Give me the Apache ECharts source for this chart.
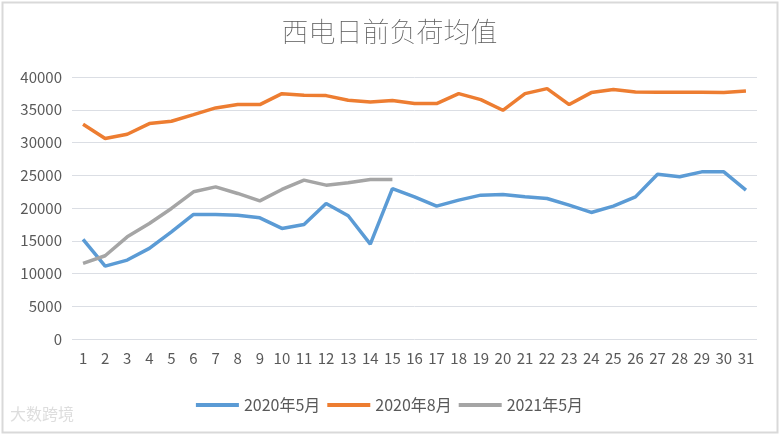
<!DOCTYPE html>
<html><head><meta charset="utf-8">
<script src="https://cdn.jsdelivr.net/npm/echarts@6/dist/echarts.min.js"></script>
<style>html,body{margin:0;padding:0;background:#fff}#c{width:779px;height:434px}</style>
</head><body><div id="c"></div>
<script>
const categories = ['1','2','3','4','5','6','7','8','9','10','11','12','13','14','15','16','17','18','19','20','21','22','23','24','25','26','27','28','29','30','31'];
const may2020 = [15200,11130,12050,13830,16370,19010,19010,18910,18500,16880,17490,20690,18810,14490,22950,21700,20280,21200,21960,22060,21700,21450,20430,19320,20280,21700,25160,24760,25520,25520,22720];
const aug2020 = [32790,30600,31260,32890,33245,34260,35280,35790,35790,37460,37210,37160,36450,36190,36400,35940,35940,37460,36550,34920,37460,38230,35790,37620,38080,37710,37660,37660,37660,37620,37870];
const may2021 = [11540,12710,15600,17640,19930,22470,23230,22220,21090,22830,24250,23490,23840,24350,24350];
const yTicks = [0,5000,10000,15000,20000,25000,30000,35000,40000];
const seriesNames = ['2020年5月','2020年8月','2021年5月'];
const colors = ['#5b9bd5','#ed7d31','#a5a5a5'];
const font = '"Microsoft YaHei","Noto Sans CJK SC",sans-serif';
const chart = echarts.init(document.getElementById('c'));
chart.setOption({
  animation:false,
  color:colors,
  title:{text:'西电日前负荷均值',left:'center',top:13,textStyle:{fontSize:27,fontWeight:'lighter',color:'#595959',fontFamily:font}},
  grid:{left:72,right:22,top:77,bottom:95,containLabel:false},
  legend:{bottom:16,left:'center',itemWidth:43,itemHeight:4,itemGap:7,icon:'rect',
    textStyle:{fontSize:16,color:'#595959',fontFamily:font},data:seriesNames},
  xAxis:{type:'category',data:categories,boundaryGap:true,
    axisLine:{show:false},axisTick:{show:false},
    axisLabel:{fontSize:15,color:'#595959',margin:12,interval:0,fontFamily:font}},
  yAxis:{type:'value',min:yTicks[0],max:yTicks[yTicks.length-1],interval:5000,
    axisLine:{show:false},axisTick:{show:false},
    axisLabel:{fontSize:15,color:'#595959',margin:10,fontFamily:font,formatter:v=>String(v)}},
    splitLine:{lineStyle:{color:'#d9d9d9',width:1}},
  series:[
    {name:seriesNames[0],type:'line',data:may2020,symbol:'none',lineStyle:{width:3.5,color:colors[0]}},
    {name:seriesNames[1],type:'line',data:aug2020,symbol:'none',lineStyle:{width:3.5,color:colors[1]}},
    {name:seriesNames[2],type:'line',data:may2021,symbol:'none',lineStyle:{width:3.5,color:colors[2]}}
  ],
  graphic:[
    {type:'rect',left:0,top:0,shape:{x:1,y:1,width:775,height:430},style:{fill:'none',stroke:'#d9d9d9',lineWidth:2},silent:true},
    {type:'text',left:10,top:406,style:{text:'大数跨境',fill:'#dddddd',font:'16px '+font},silent:true}
  ]
});
</script></body></html>
